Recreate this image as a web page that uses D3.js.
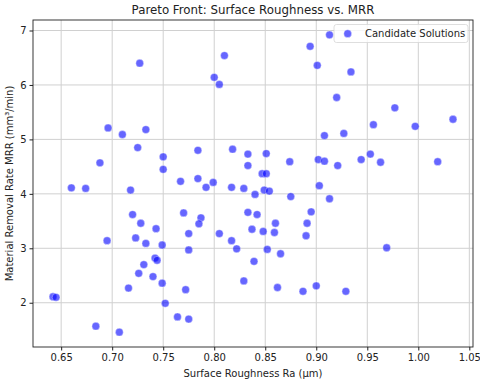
<!DOCTYPE html>
<html>
<head>
<meta charset="utf-8">
<script src="https://d3js.org/d3.v7.min.js"></script>
<style>
body { margin: 0; background: #fff; }
text { font-family: "DejaVu Sans", sans-serif; fill: #222; }
</style>
</head>
<body>
<svg width="480" height="380"></svg>
<script>
// surface roughness Ra (um)
var ra = [0.727,0.810,0.800,0.805,0.696,0.710,0.733,0.725,0.784,0.818,
          0.833,0.750,0.833,0.750,0.688,0.767,0.784,0.792,0.799,0.817,
          0.829,0.660,0.674,0.718,0.840,0.720,0.728,0.743,0.770,0.787,
          0.785,0.833,0.842,0.775,0.805,0.837,0.695,0.723,0.733,0.749,
          0.775,0.817,0.822,0.742,0.744,0.731,0.839,0.726,0.740,0.749,
          0.716,0.772,0.829,0.642,0.645,0.752,0.764,0.775,0.684,0.707,
          0.913,0.894,0.901,0.934,0.920,0.977,1.034,0.956,0.997,0.908,
          0.927,0.851,0.874,0.902,0.908,0.921,0.944,0.953,0.963,1.019,
          0.847,0.851,0.903,0.849,0.854,0.875,0.913,0.895,0.860,0.891,
          0.848,0.859,0.890,0.852,0.865,0.969,0.862,0.887,0.900,0.929];
// material removal rate (mm3/min)
var mrr = [6.40,6.54,6.14,6.01,5.21,5.09,5.18,4.85,4.80,4.82,
           4.73,4.68,4.52,4.45,4.57,4.23,4.28,4.12,4.21,4.12,
           4.10,4.11,4.10,4.07,3.99,3.62,3.46,3.36,3.65,3.56,
           3.45,3.66,3.62,3.27,3.27,3.35,3.14,3.19,3.09,3.06,
           2.97,3.14,2.99,2.82,2.78,2.70,2.76,2.54,2.48,2.36,
           2.27,2.24,2.40,2.11,2.10,1.99,1.74,1.70,1.57,1.46,
           6.92,6.71,6.36,6.24,5.77,5.58,5.37,5.27,5.24,5.07,
           5.11,4.74,4.59,4.63,4.60,4.52,4.63,4.73,4.58,4.59,
           4.37,4.37,4.15,4.07,4.05,3.95,3.91,3.67,3.46,3.46,
           3.31,3.29,3.23,2.98,2.90,3.01,2.28,2.21,2.31,2.21];
var xTicks = [0.65,0.70,0.75,0.80,0.85,0.90,0.95,1.00,1.05];
var yTicks = [2,3,4,5,6,7];

var svg = d3.select("svg");
var pL = 33, pR = 473, pT = 20, pB = 347;

function padded(arr) {
  var e = d3.extent(arr), p = (e[1] - e[0]) * 0.05;
  return [e[0] - p, e[1] + p];
}
var x = d3.scaleLinear().domain(padded(ra)).range([pL, pR]);
var y = d3.scaleLinear().domain(padded(mrr)).range([pB, pT]);

// grid
var grid = svg.append("g").attr("stroke", "#d0d0d0").attr("stroke-width", 1);
grid.selectAll(".gx").data(xTicks).enter().append("line")
    .attr("x1", function(d) { return x(d); }).attr("x2", function(d) { return x(d); })
    .attr("y1", pT).attr("y2", pB);
grid.selectAll(".gy").data(yTicks).enter().append("line")
    .attr("y1", function(d) { return y(d); }).attr("y2", function(d) { return y(d); })
    .attr("x1", pL).attr("x2", pR);

// axes
var xa = svg.append("g").attr("transform", "translate(0," + pB + ")")
    .call(d3.axisBottom(x).tickValues(xTicks).tickFormat(d3.format(".2f")).tickSize(3.5).tickPadding(3));
var ya = svg.append("g").attr("transform", "translate(" + pL + ",0)")
    .call(d3.axisLeft(y).tickValues(yTicks).tickFormat(d3.format("d")).tickSize(3.5).tickPadding(3));
[xa, ya].forEach(function(a) {
  a.select(".domain").remove();
  a.selectAll("text").attr("font-size", 10).attr("font-family", "DejaVu Sans").attr("fill", "#222");
  a.selectAll("line").attr("stroke", "#222");
});

// points
svg.append("g").selectAll("circle")
  .data(ra.map(function(d, i) { return [d, mrr[i]]; }))
  .enter().append("circle")
    .attr("cx", function(d) { return x(d[0]); })
    .attr("cy", function(d) { return y(d[1]); })
    .attr("r", 3.9)
    .attr("fill", "rgba(0,0,255,0.6)")
    .attr("stroke", "rgba(255,255,255,0.6)")
    .attr("stroke-width", 0.6);

// frame
svg.append("rect").attr("x", pL).attr("y", pT)
    .attr("width", pR - pL).attr("height", pB - pT)
    .attr("fill", "none").attr("stroke", "#222").attr("stroke-width", 0.9);

// titles
svg.append("text").attr("x", (pL + pR) / 2).attr("y", 14)
    .attr("text-anchor", "middle").attr("font-size", 11.8)
    .text("Pareto Front: Surface Roughness vs. MRR");
svg.append("text").attr("x", (pL + pR) / 2).attr("y", 377)
    .attr("text-anchor", "middle").attr("font-size", 10)
    .text("Surface Roughness Ra (μm)");
svg.append("text").attr("transform", "translate(13," + ((pT + pB) / 2) + ") rotate(-90)")
    .attr("text-anchor", "middle").attr("font-size", 10)
    .text("Material Removal Rate MRR (mm³/min)");

// legend
var lg = svg.append("g");
lg.append("rect").attr("x", 334).attr("y", 24.5).attr("width", 134).attr("height", 18)
    .attr("rx", 2.5).attr("fill", "rgba(255,255,255,0.8)").attr("stroke", "#d6d6d6").attr("stroke-width", 0.8);
lg.append("circle").attr("cx", 347.7).attr("cy", 33.7).attr("r", 3.9)
    .attr("fill", "rgba(0,0,255,0.6)").attr("stroke", "rgba(255,255,255,0.6)").attr("stroke-width", 0.6);
lg.append("text").attr("x", 365).attr("y", 37.3).attr("font-size", 10).text("Candidate Solutions");
</script>
</body>
</html>
